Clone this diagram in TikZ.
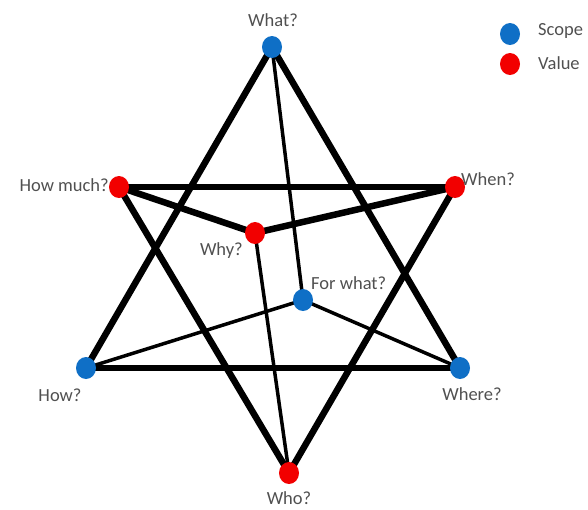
\documentclass[tikz,border=0pt]{standalone}
\usepackage{fontspec}
\setmainfont{Carlito}
\usetikzlibrary{shapes.geometric}
\definecolor{scopeblue}{HTML}{0F6FC6}
\definecolor{valuered}{HTML}{F20000}
\definecolor{labelgray}{HTML}{505050}
\tikzset{
  dot/.style={ellipse, minimum width=20pt, minimum height=22pt, inner sep=0pt},
  scopedot/.style={dot, fill=scopeblue},
  valuedot/.style={dot, fill=valuered},
  lbl/.style={text=labelgray, font=\fontsize{18.5}{20}\selectfont, inner sep=0pt},
  thickline/.style={line width=6.5pt, black, line cap=round},
  thinline/.style={line width=3.5pt, black, line cap=round},
}
\begin{document}
\begin{tikzpicture}[x=1pt,y=-1pt]
\useasboundingbox (0,0) rectangle (588,509);
% positions
\coordinate (pWhat) at (272,47);
\coordinate (pHowmuch) at (119,187);
\coordinate (pWhen) at (455,187);
\coordinate (pWhy) at (255,233);
\coordinate (pForwhat) at (303,300);
\coordinate (pHow) at (86,368);
\coordinate (pWhere) at (460,368);
\coordinate (pWho) at (289,473);
% edges
\draw[thickline] (pWhat) -- (pHow);
\draw[thickline] (pWhat) -- (pWhere);
\draw[thickline] (pHow) -- (pWhere);
\draw[thinline] (pWhat) -- (pForwhat);
\draw[thinline] (pHow) -- (pForwhat);
\draw[thinline] (pForwhat) -- (pWhere);
\draw[thickline] (pHowmuch) -- (pWhen);
\draw[thickline] (pHowmuch) -- (pWho);
\draw[thickline] (pWhen) -- (pWho);
\draw[thickline] (pHowmuch) -- (pWhy);
\draw[thickline] (pWhy) -- (pWhen);
\draw[thinline] (pWhy) -- (pWho);
% dots
\node[scopedot] (what) at (pWhat) {};
\node[valuedot] (howmuch) at (pHowmuch) {};
\node[valuedot] (when) at (pWhen) {};
\node[valuedot] (why) at (pWhy) {};
\node[scopedot] (forwhat) at (pForwhat) {};
\node[scopedot] (how) at (pHow) {};
\node[scopedot] (where) at (pWhere) {};
\node[valuedot] (who) at (pWho) {};
% labels
\node[lbl] (lwhat) at (273,20) {What?};
\node[lbl, anchor=east] (lhowmuch) at (109,185) {How much?};
\node[lbl, anchor=west] (lwhen) at (461,179) {When?};
\node[lbl, anchor=east] (lwhy) at (243,251) {Why?};
\node[lbl, anchor=west] (lforwhat) at (311,283) {For what?};
\node[lbl] (lhow) at (60,395) {How?};
\node[lbl] (lwhere) at (472,394) {Where?};
\node[lbl] (lwho) at (289,498) {Who?};
% legend
\node[scopedot] (legscope) at (510,34) {};
\node[valuedot] (legvalue) at (510,64) {};
\node[lbl, anchor=west] (lscope) at (538,31) {Scope};
\node[lbl, anchor=west] (lvalue) at (538,63) {Value};
\end{tikzpicture}
\end{document}
